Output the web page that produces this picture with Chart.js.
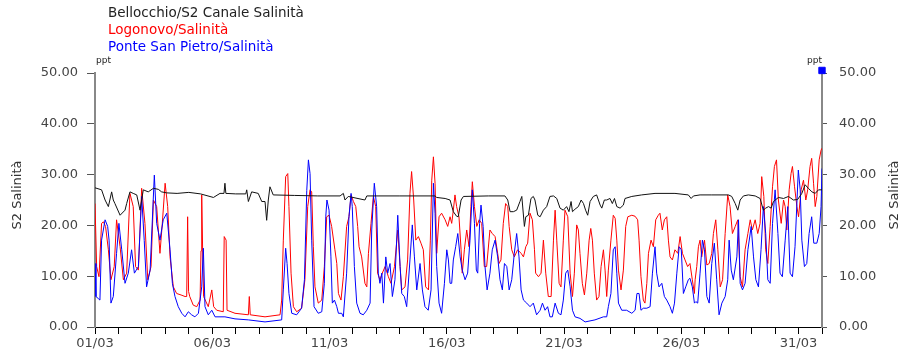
<!DOCTYPE html>
<html>
<head>
<meta charset="utf-8">
<script src="https://cdn.jsdelivr.net/npm/chart.js@4.4.0/dist/chart.umd.min.js"></script>
<style>
  body { margin: 0; background: #fff; }
  #wrap { position: relative; width: 907px; height: 356px; }
  #legend { position: absolute; left: 108px; top: 4px; font: 13.5px "DejaVu Sans", sans-serif; line-height: 17px; }
</style>
</head>
<body>
<div id="wrap">
  <canvas id="myChart" width="907" height="356"></canvas>
  <div id="legend"></div>
</div>
<script>
// series names and colours
var seriesNames = ["Bellocchio/S2 Canale Salinità", "Logonovo/Salinità", "Ponte San Pietro/Salinità"];
var seriesColors = ["#111111", "#ff0000", "#0000ff"];
var tickLabels = ["01/03", "06/03", "11/03", "16/03", "21/03", "26/03", "31/03"];
var axisTitle = "S2 Salinità";
var unit = "ppt";

// [day since 01/03 00:00, value]
var bellocchio = [[0,27.4],[0.28,27.0],[0.43,25.0],[0.57,23.7],[0.71,26.6],[0.78,25.0],[0.85,24.3],[1.07,22.0],[1.28,23.0],[1.35,24.3],[1.49,26.6],[1.63,26.3],[1.78,26.0],[1.92,23.0],[2.06,27.0],[2.27,26.6],[2.49,27.3],[2.70,27.1],[2.84,26.6],[3.06,26.4],[3.5,26.3],[4.0,26.5],[4.5,26.2],[5.05,25.5],[5.33,26.3],[5.50,26.3],[5.54,28.3],[5.58,26.3],[6.0,26.2],[6.43,26.2],[6.47,27.0],[6.54,24.7],[6.68,26.6],[6.96,26.3],[7.11,24.7],[7.25,24.7],[7.32,21.0],[7.39,25.0],[7.46,27.6],[7.60,26.0],[8.5,25.9],[9.5,25.8],[10.45,25.8],[10.59,26.3],[10.66,25.0],[10.80,25.7],[11.51,25.0],[11.59,25.8],[13.0,25.8],[14.5,25.8],[14.57,25.5],[14.93,25.3],[15.14,25.0],[15.28,22.7],[15.42,21.8],[15.49,21.7],[15.61,25.0],[15.71,25.7],[16.77,25.8],[17.48,25.8],[17.60,25.0],[17.70,22.7],[17.84,22.7],[17.98,23.0],[18.12,24.7],[18.2,25.7],[18.31,19.8],[18.37,21.7],[18.48,22.0],[18.59,25.3],[18.69,25.7],[18.76,25.0],[18.88,22.0],[18.98,21.7],[19.12,23.0],[19.26,23.7],[19.40,25.7],[19.55,25.8],[19.69,25.3],[19.83,23.4],[19.97,23.0],[20.11,23.7],[20.21,22.7],[20.30,24.7],[20.36,22.7],[20.47,23.2],[20.61,23.7],[20.73,25.0],[20.83,24.3],[20.92,23.0],[21.01,22.0],[21.11,24.7],[21.25,25.7],[21.39,26.0],[21.54,24.0],[21.61,23.4],[21.72,25.0],[21.82,25.0],[21.96,25.3],[22.06,24.3],[22.15,25.3],[22.25,23.7],[22.39,23.4],[22.53,24.0],[22.60,25.3],[22.89,25.7],[23.31,26.0],[23.88,26.3],[24.73,26.3],[25.30,26.0],[25.42,25.3],[25.52,25.8],[25.8,26.0],[26.3,26.0],[27.01,26.0],[27.15,25.7],[27.30,24.3],[27.41,23.0],[27.51,25.0],[27.65,25.8],[27.86,26.0],[28.15,25.8],[28.36,25.3],[28.50,23.0],[28.60,23.4],[28.72,23.7],[28.83,23.4],[28.93,24.7],[29.14,25.5],[29.36,25.3],[29.57,25.7],[29.78,25.0],[29.96,25.1],[30.14,26.3],[30.28,28.0],[30.42,27.3],[30.57,26.6],[30.71,26.3],[30.85,27.0],[31.0,27.0]];

var logonovo = [[0,24.3],[0.07,11.9],[0.17,9.9],[0.28,20.4],[0.36,20.7],[0.45,19.8],[0.57,15.2],[0.68,9.3],[0.82,11.9],[0.92,21.1],[1.07,15.8],[1.21,9.3],[1.35,10.6],[1.49,26.3],[1.63,23.7],[1.73,11.9],[1.85,11.2],[1.99,27.3],[2.13,20.4],[2.25,9.3],[2.39,11.9],[2.49,25.0],[2.63,23.7],[2.77,14.5],[2.87,20.4],[2.99,28.3],[3.10,23.7],[3.20,13.8],[3.34,7.9],[3.48,6.6],[3.67,6.3],[3.84,6.0],[3.91,6.0],[3.95,21.7],[3.99,7.0],[4.04,6.0],[4.19,4.3],[4.34,4.0],[4.48,5.3],[4.52,15.0],[4.55,26.0],[4.59,15.0],[4.63,6.0],[4.83,4.0],[4.98,7.3],[5.06,4.0],[5.19,3.3],[5.47,3.0],[5.51,17.8],[5.59,17.1],[5.63,3.3],[5.97,2.7],[6.54,2.4],[6.58,6.0],[6.62,2.4],[7.25,2.0],[7.89,2.4],[7.96,5.3],[8.03,17.1],[8.13,29.6],[8.22,30.2],[8.27,23.7],[8.36,10.6],[8.46,4.0],[8.6,3.0],[8.81,3.7],[8.95,9.3],[9.07,23.7],[9.17,27.0],[9.24,26.6],[9.31,15.8],[9.38,7.9],[9.52,4.7],[9.67,5.3],[9.78,11.9],[9.88,21.7],[9.98,22.0],[10.09,19.8],[10.23,15.2],[10.31,12.5],[10.38,6.6],[10.49,5.3],[10.59,9.9],[10.73,19.8],[10.83,21.7],[10.92,26.0],[11.02,24.7],[11.12,23.7],[11.20,19.8],[11.26,15.8],[11.37,13.8],[11.51,8.6],[11.59,7.9],[11.66,14.5],[11.77,20.4],[11.87,25.7],[11.97,23.7],[12.05,10.6],[12.15,9.3],[12.25,10.6],[12.37,11.9],[12.51,9.9],[12.62,8.6],[12.77,11.9],[12.91,19.1],[13.01,11.9],[13.08,7.3],[13.22,7.9],[13.33,13.2],[13.43,26.3],[13.50,30.6],[13.59,25.0],[13.68,17.1],[13.79,17.8],[13.9,16.5],[14.0,15.2],[14.1,7.9],[14.22,7.3],[14.30,17.1],[14.36,28.9],[14.43,33.5],[14.50,28.3],[14.57,14.5],[14.67,21.7],[14.78,22.4],[14.93,21.1],[15.04,19.8],[15.14,21.7],[15.21,20.4],[15.28,23.0],[15.35,26.0],[15.42,23.7],[15.52,21.7],[15.61,15.2],[15.66,10.6],[15.75,15.2],[15.85,19.1],[15.95,15.8],[16.03,23.7],[16.09,28.6],[16.18,23.7],[16.28,19.8],[16.38,21.1],[16.49,20.4],[16.6,11.9],[16.7,11.9],[16.84,19.1],[16.94,18.4],[17.06,17.8],[17.17,14.5],[17.23,12.5],[17.31,13.2],[17.41,20.4],[17.51,24.3],[17.6,23.7],[17.66,19.8],[17.77,15.2],[17.88,13.8],[18.02,15.2],[18.17,14.5],[18.27,13.8],[18.37,15.8],[18.45,16.5],[18.55,22.4],[18.65,21.1],[18.74,15.2],[18.79,10.6],[18.91,9.9],[19.02,10.6],[19.12,17.1],[19.22,10.6],[19.33,6.0],[19.45,6.0],[19.55,17.1],[19.62,23.0],[19.69,17.1],[19.79,8.6],[19.87,7.9],[19.97,17.1],[20.04,23.0],[20.16,21.7],[20.26,10.6],[20.36,6.0],[20.44,10.6],[20.54,20.1],[20.61,19.1],[20.68,14.5],[20.78,8.6],[20.87,6.3],[20.97,10.6],[21.07,17.1],[21.14,19.4],[21.21,17.1],[21.29,10.6],[21.39,5.3],[21.49,6.0],[21.58,11.9],[21.68,15.2],[21.75,11.2],[21.82,6.0],[21.89,11.2],[22.0,17.1],[22.1,22.0],[22.18,21.4],[22.25,17.1],[22.32,11.2],[22.43,7.3],[22.53,11.2],[22.63,19.8],[22.72,21.7],[22.89,22.0],[23.03,21.8],[23.14,21.1],[23.2,17.1],[23.28,9.9],[23.38,5.3],[23.45,4.7],[23.53,8.6],[23.6,14.5],[23.71,17.1],[23.81,15.8],[23.91,21.1],[24.02,22.0],[24.09,22.4],[24.19,19.1],[24.28,21.1],[24.38,21.7],[24.45,17.1],[24.52,13.8],[24.62,13.2],[24.73,15.2],[24.85,14.5],[24.95,17.8],[25.05,14.5],[25.16,13.2],[25.27,11.9],[25.37,12.5],[25.47,9.3],[25.56,6.6],[25.59,9.3],[25.66,11.9],[25.73,15.8],[25.8,17.1],[25.87,13.8],[25.99,17.1],[26.09,12.2],[26.19,12.5],[26.3,14.5],[26.37,18.4],[26.47,21.1],[26.56,15.2],[26.66,7.9],[26.76,9.3],[26.87,18.4],[26.98,26.0],[27.08,23.7],[27.18,18.4],[27.3,19.8],[27.41,21.1],[27.51,9.9],[27.61,7.9],[27.72,15.2],[27.84,18.4],[27.94,21.1],[28.03,19.1],[28.15,21.1],[28.26,18.4],[28.36,20.4],[28.43,29.6],[28.52,25.7],[28.6,15.2],[28.69,12.5],[28.79,19.8],[28.89,27.6],[28.97,31.6],[29.06,32.9],[29.14,25.0],[29.26,20.4],[29.36,25.0],[29.43,23.7],[29.5,19.1],[29.6,27.0],[29.68,30.2],[29.74,31.6],[29.83,27.6],[29.93,23.7],[30.0,21.7],[30.11,27.0],[30.21,28.9],[30.31,25.0],[30.39,27.0],[30.49,31.6],[30.56,33.2],[30.64,28.3],[30.71,23.7],[30.78,25.7],[30.88,32.9],[30.96,34.8],[31.0,35.2]];

var ponteSanPietro = [[0,12.5],[0.04,6.0],[0.14,5.6],[0.21,5.3],[0.28,17.1],[0.43,21.1],[0.54,19.8],[0.6,17.1],[0.68,4.7],[0.78,6.0],[0.92,14.5],[1.02,20.4],[1.14,15.2],[1.28,8.6],[1.42,10.6],[1.56,15.2],[1.68,10.6],[1.85,11.9],[1.99,25.7],[2.1,17.0],[2.2,7.9],[2.35,11.2],[2.53,29.9],[2.63,20.4],[2.77,17.1],[2.91,21.1],[3.06,22.4],[3.2,15.2],[3.3,8.6],[3.41,6.0],[3.55,4.0],[3.7,2.7],[3.84,2.0],[3.98,3.0],[4.12,2.4],[4.26,2.0],[4.41,2.7],[4.55,7.9],[4.62,15.5],[4.69,4.0],[4.83,2.4],[4.98,3.3],[5.12,2.0],[5.54,2.0],[5.97,1.6],[6.54,1.4],[7.25,1.0],[7.96,1.4],[8.03,7.3],[8.13,15.5],[8.19,12.5],[8.27,6.6],[8.39,2.7],[8.6,2.4],[8.81,3.7],[8.93,9.3],[9.03,26.9],[9.1,32.9],[9.17,30.2],[9.24,17.1],[9.34,4.0],[9.52,2.7],[9.67,3.0],[9.78,8.6],[9.84,21.7],[9.89,25.0],[9.98,23.0],[10.06,13.8],[10.12,4.7],[10.21,5.3],[10.31,4.0],[10.38,2.7],[10.52,2.7],[10.59,2.0],[10.73,10.6],[10.83,21.7],[10.92,26.3],[10.97,23.7],[11.06,11.9],[11.16,4.7],[11.3,2.7],[11.44,2.4],[11.59,3.3],[11.73,4.7],[11.8,19.1],[11.91,28.3],[12.01,23.7],[12.08,10.6],[12.15,8.6],[12.23,10.6],[12.3,4.7],[12.4,13.8],[12.48,10.6],[12.58,12.5],[12.68,6.0],[12.79,9.3],[12.91,22.0],[13.01,11.9],[13.08,6.6],[13.19,6.0],[13.29,4.0],[13.43,13.2],[13.53,20.1],[13.62,13.8],[13.72,7.3],[13.86,12.5],[13.96,7.3],[14.07,4.0],[14.21,3.3],[14.33,7.3],[14.43,28.3],[14.5,22.4],[14.57,11.9],[14.67,4.7],[14.78,2.7],[14.9,8.6],[15.0,15.2],[15.07,13.2],[15.14,8.6],[15.21,8.6],[15.28,13.2],[15.38,15.8],[15.47,18.4],[15.57,13.8],[15.66,11.2],[15.78,9.3],[15.89,10.6],[15.99,17.1],[16.09,27.0],[16.18,20.4],[16.26,11.2],[16.32,10.6],[16.4,20.4],[16.46,24.0],[16.55,19.8],[16.63,11.9],[16.72,7.3],[16.84,10.6],[16.94,15.2],[17.06,17.1],[17.17,13.8],[17.27,9.3],[17.37,7.3],[17.46,12.5],[17.56,11.9],[17.66,7.3],[17.77,9.3],[17.88,14.5],[17.98,18.4],[18.08,13.8],[18.17,7.3],[18.27,5.3],[18.41,4.7],[18.55,4.0],[18.69,4.7],[18.83,2.4],[18.98,3.3],[19.08,4.7],[19.19,3.3],[19.3,4.0],[19.4,2.0],[19.5,2.0],[19.62,4.7],[19.76,2.7],[19.87,2.4],[19.97,5.3],[20.07,10.6],[20.16,11.2],[20.26,7.9],[20.36,3.3],[20.47,2.0],[20.68,1.7],[20.9,1.0],[21.32,1.4],[21.68,2.0],[21.82,2.0],[21.89,4.0],[22.0,6.6],[22.1,15.2],[22.18,15.8],[22.25,10.6],[22.32,4.7],[22.46,3.3],[22.67,3.3],[22.89,2.7],[23.03,3.3],[23.11,6.6],[23.2,6.6],[23.28,3.3],[23.38,3.7],[23.53,3.7],[23.67,4.0],[23.77,10.6],[23.88,15.8],[23.95,10.6],[24.05,7.9],[24.17,8.6],[24.28,6.0],[24.38,5.3],[24.52,4.0],[24.62,2.7],[24.71,4.7],[24.81,10.6],[24.91,15.8],[25.0,15.2],[25.09,6.6],[25.19,7.9],[25.3,9.3],[25.37,9.6],[25.47,7.9],[25.56,4.7],[25.62,5.0],[25.7,4.7],[25.8,10.6],[25.9,17.1],[25.99,15.2],[26.09,6.0],[26.19,4.7],[26.3,12.5],[26.41,16.5],[26.51,9.3],[26.61,2.4],[26.73,4.7],[26.87,6.0],[26.98,9.3],[27.04,17.1],[27.13,11.2],[27.22,9.3],[27.37,13.8],[27.44,21.1],[27.51,8.6],[27.61,7.3],[27.72,8.6],[27.84,15.2],[27.98,19.8],[28.08,13.8],[28.18,9.3],[28.29,7.9],[28.4,15.2],[28.5,23.7],[28.6,18.4],[28.69,9.3],[28.79,8.6],[28.89,20.4],[29.0,27.0],[29.12,18.4],[29.21,10.6],[29.31,9.9],[29.43,17.1],[29.54,23.7],[29.64,10.6],[29.74,9.9],[29.85,15.8],[29.99,30.9],[30.07,27.0],[30.14,17.1],[30.25,11.9],[30.35,12.5],[30.45,18.4],[30.56,21.7],[30.65,16.5],[30.78,16.5],[30.88,18.4],[30.96,23.7],[31.0,31.2]];

// blue marker at top right corner
var marker = [[31, 50.5]];

function toXY(arr) {
  return arr.map(function (p) { return { x: p[0], y: p[1] }; });
}

var legend = document.getElementById("legend");
seriesNames.forEach(function (name, i) {
  var d = document.createElement("div");
  d.style.color = i == 0 ? "#222" : seriesColors[i];
  d.appendChild(document.createTextNode(name));
  legend.appendChild(d);
});

var sideText = {
  id: "sideText",
  afterDraw: function (chart) {
    var ctx = chart.ctx, a = chart.chartArea;
    ctx.save();
    ctx.fillStyle = "#333";
    ctx.font = '13px "DejaVu Sans"';
    ctx.textAlign = "center";
    ctx.textBaseline = "middle";
    [18, 895].forEach(function (x) {
      ctx.save();
      ctx.translate(x, 195);
      ctx.rotate(-Math.PI / 2);
      ctx.fillText(axisTitle, 0, 0);
      ctx.restore();
    });
    ctx.font = '9px "DejaVu Sans"';
    ctx.textBaseline = "alphabetic";
    ctx.fillStyle = "#222";
    ctx.textAlign = "left";
    ctx.fillText(unit, a.left + 1, a.top - 10);
    ctx.textAlign = "right";
    ctx.fillText(unit, a.right, a.top - 10);
    ctx.restore();
  }
};

var tickFont = { family: '"DejaVu Sans", sans-serif', size: 13 };

function yAxis(pos, w, len, pad) {
  return {
    type: "linear",
    position: pos,
    min: 0,
    max: 50,
    afterFit: function (s) { s.width = w; },
    border: { display: true, color: "#888", width: 2 },
    grid: { drawOnChartArea: false, drawTicks: true, tickLength: len, color: "#555" },
    ticks: {
      stepSize: 10,
      padding: pad,
      color: "#444",
      font: tickFont,
      callback: function (v) { return v.toFixed(2); }
    }
  };
}

new Chart(document.getElementById("myChart"), {
  type: "line",
  data: {
    datasets: [
      { label: seriesNames[0], data: toXY(bellocchio), borderColor: seriesColors[0], order: 0 },
      { label: seriesNames[2], data: toXY(ponteSanPietro), borderColor: seriesColors[2], order: 1 },
      { label: seriesNames[1], data: toXY(logonovo), borderColor: seriesColors[1], order: 2 },
      { label: "marker", data: toXY(marker), showLine: false, pointStyle: "rect", pointRadius: 4.5,
        backgroundColor: "#0000ff", borderColor: "#0000ff", clip: false, order: 0 }
    ]
  },
  options: {
    responsive: false,
    animation: false,
    devicePixelRatio: 1,
    layout: { padding: { top: 73, left: 0, right: 0, bottom: 0 } },
    elements: {
      line: { borderWidth: 1, tension: 0 },
      point: { radius: 0 }
    },
    plugins: { legend: { display: false }, tooltip: { enabled: false } },
    scales: {
      x: {
        type: "linear",
        min: 0,
        max: 31,
        afterFit: function (s) { s.height = 29; },
        border: { display: true, color: "#000", width: 1 },
        grid: { drawOnChartArea: false, drawTicks: true, tickLength: 7, color: "#000" },
        ticks: {
          stepSize: 1,
          autoSkip: false,
          maxRotation: 0,
          padding: 2,
          color: "#444",
          font: tickFont,
          callback: function (v) { return v % 5 === 0 ? tickLabels[v / 5] : ""; }
        }
      },
      y: yAxis("left", 95, 8, 9),
      y2: yAxis("right", 85, 5, 12)
    }
  },
  plugins: [sideText]
});
</script>
</body>
</html>
